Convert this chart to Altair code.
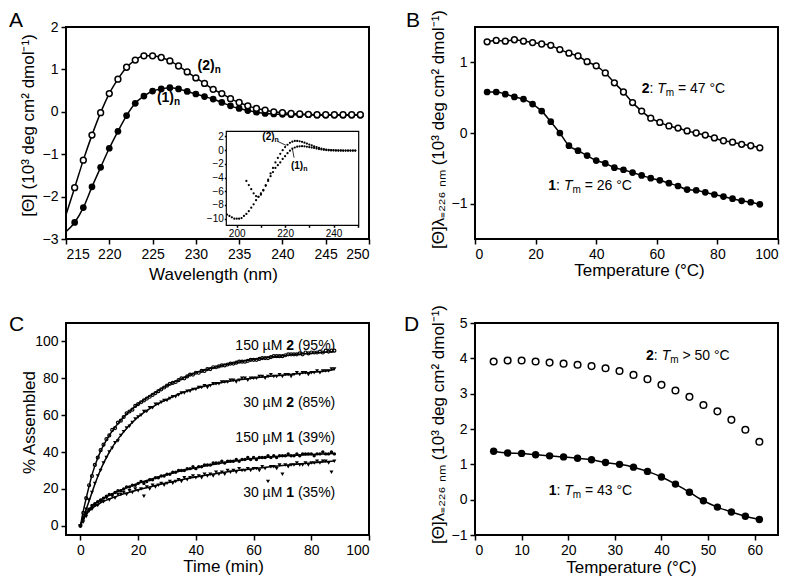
import altair as alt
import pandas as pd

FONT = "Liberation Sans"

# ---------------- Panel A : CD spectra ----------------
a_wl = list(range(216, 250))
a_open = [-1.79, -1.14, -0.55, -0.02, 0.43, 0.77, 1.05, 1.22, 1.32, 1.32,
          1.28, 1.20, 1.08, 0.94, 0.80, 0.67, 0.53, 0.43, 0.31, 0.22,
          0.14, 0.08, 0.04, 0.00, -0.02, -0.04, -0.05, -0.06, -0.07, -0.07,
          -0.07, -0.07, -0.07, -0.07]
a_filled = [-2.61, -2.26, -1.77, -1.31, -0.86, -0.46, -0.09, 0.20, 0.37, 0.49,
            0.54, 0.57, 0.54, 0.48, 0.42, 0.36, 0.30, 0.22, 0.14, 0.08,
            0.03, -0.01, -0.04, -0.05, -0.06, -0.07, -0.07, -0.07, -0.08, -0.08,
            -0.08, -0.08, -0.08, -0.08]
a_fit_wl = [215] + a_wl
a_fit_open = [-2.43] + a_open
a_fit_filled = [-2.83] + a_filled

# inset (full spectra)
in_wl1 = list(range(196, 250))
in_1 = [-9.4, -9.6, -9.8, -10.0, -10.0, -10.0, -9.9, -9.6, -9.3, -8.9,
        -8.4, -7.9, -7.3, -6.8, -6.3, -5.8, -5.2, -4.5, -3.8, -3.2,
        -2.6, -2.2, -1.8, -1.3, -0.9, -0.45, -0.1, 0.2, 0.37, 0.49,
        0.54, 0.57, 0.54, 0.48, 0.42, 0.36, 0.30, 0.22, 0.14, 0.08,
        0.03, -0.01, -0.04, -0.05, -0.06, -0.07, -0.07, -0.07, -0.08, -0.08,
        -0.08, -0.08, -0.08, -0.08]
in_wl2 = list(range(204, 250))
in_2 = [-4.5, -5.1, -5.7, -6.3, -6.7, -6.8, -6.5, -5.9, -5.1, -4.3,
        -3.4, -2.6, -1.8, -1.14, -0.55, -0.02, 0.43, 0.77, 1.05, 1.22,
        1.32, 1.32, 1.28, 1.20, 1.08, 0.94, 0.80, 0.67, 0.53, 0.43,
        0.31, 0.22, 0.14, 0.08, 0.04, 0.00, -0.02, -0.04, -0.05, -0.06,
        -0.07, -0.07, -0.07, -0.07, -0.07, -0.07]

# ---------------- Panel B : thermal melts ----------------
b_t = list(range(4, 95, 3))
b_open = [1.29, 1.31, 1.30, 1.32, 1.30, 1.28, 1.26, 1.24, 1.18, 1.13,
          1.09, 1.01, 0.95, 0.85, 0.71, 0.58, 0.43, 0.31, 0.21, 0.15,
          0.10, 0.07, 0.03, 0.00, -0.03, -0.07, -0.11, -0.13, -0.16, -0.18, -0.21]
b_filled = [0.58, 0.58, 0.55, 0.51, 0.48, 0.41, 0.31, 0.16, 0.00, -0.18,
            -0.25, -0.32, -0.39, -0.43, -0.49, -0.52, -0.56, -0.60, -0.64, -0.67,
            -0.71, -0.75, -0.80, -0.81, -0.84, -0.87, -0.90, -0.93, -0.96, -0.98, -1.01]

# ---------------- Panel C : assembly kinetics ----------------
c_t = list(range(0, 89))
c150_2 = [0, 7, 15, 22, 27, 33, 37, 41, 44, 47,
          49, 52, 53, 56, 57, 59, 61, 62, 63, 65,
          66, 67, 68, 69, 70, 71, 72, 73, 74, 75,
          76, 77, 77.5, 78, 79, 80, 80, 81, 82, 82,
          83, 83, 84, 84, 85, 85, 86, 86, 86.5, 87,
          87, 87.5, 88, 88, 88.5, 89, 89, 89, 89.5, 90,
          90, 90, 90.5, 91, 91, 91, 91.5, 92, 92, 92,
          92, 92.5, 93, 93, 93, 93, 93.5, 93, 94, 93.5,
          94, 94, 94, 94.5, 94, 95, 94.5, 95, 95]
c30_2 = [0, 4, 9, 14, 18, 23, 27, 30, 34, 37,
         40, 42, 45, 46, 49, 51, 53, 54, 56, 58,
         59, 60, 62, 62, 64, 64, 66, 66, 67, 68,
         68, 69, 70, 70, 71, 72, 72, 73, 73, 74,
         74, 75, 75, 76, 75, 76, 77, 77, 77, 78,
         78, 78, 79, 79, 78, 79, 80, 80, 79, 80,
         80, 80, 81, 81, 80, 81, 82, 81, 81, 82,
         81, 82, 82, 81, 82, 83, 82, 83, 83, 82,
         83, 83, 84, 83, 84, 84, 84, 85, 85]
c150_1 = [0, 4, 7, 9, 11, 12, 13, 14, 15, 16,
          17, 17, 18, 19, 19, 20, 21, 21, 22, 22,
          23, 24, 23, 24, 25, 25, 26, 26, 27, 27,
          28, 28, 29, 29, 30, 30, 30, 31, 31, 32,
          31, 32, 32, 33, 33, 33, 34, 34, 34, 35,
          34, 35, 35, 35, 36, 35, 36, 36, 37, 36,
          37, 36, 37, 37, 37, 38, 37, 38, 37, 38,
          38, 38, 39, 38, 38, 39, 38, 39, 39, 39,
          39, 38, 39, 39, 40, 39, 39, 40, 39]
c30_1 = [0, 2, 5, 8, 9, 11, 11, 13, 13, 15,
         14, 16, 15, 17, 17, 18, 17, 19, 18, 20,
         19, 20, 16, 21, 20, 22, 21, 22, 23, 22,
         23, 24, 23, 24, 25, 24, 26, 25, 26, 27,
         26, 27, 26, 28, 27, 28, 27, 29, 28, 29,
         28, 30, 29, 30, 29, 31, 30, 30, 31, 30,
         31, 31, 30, 32, 31, 24, 32, 32, 31, 33,
         28, 33, 32, 33, 33, 34, 33, 33, 34, 33,
         34, 34, 35, 34, 35, 35, 34, 29, 35]
c_fit_t = [0, 1, 2, 3, 4, 5, 7, 10, 15, 20, 25, 30, 35, 40, 45, 50, 55, 60, 65, 70, 75, 80, 85, 88]
fit150_2 = [0, 8, 15, 21.5, 27.5, 32.5, 40.5, 49, 59, 66, 71.3, 76, 79.7, 83, 85.3, 87.3, 88.9, 90.2, 91.3, 92.2, 93, 93.6, 94.2, 94.5]
fit30_2 = [0, 4.5, 9, 13.5, 18, 22.5, 30.5, 40, 51, 59, 64.5, 68.5, 72, 74.5, 76.5, 78, 79.2, 80.2, 81, 81.7, 82.5, 83.2, 84, 84.8]
fit150_1 = [0, 4, 7, 9, 10.5, 12, 14, 16.5, 20, 23, 25.5, 27.8, 29.8, 31.5, 33, 34.3, 35.4, 36.5, 37.2, 37.8, 38.3, 38.7, 39, 39.2]
fit30_1 = [0, 3.5, 6, 8, 9.5, 10.5, 12.5, 14.5, 17.3, 19.5, 21.5, 23.3, 25, 26.5, 27.8, 29, 30.1, 31, 31.9, 32.7, 33.4, 34.1, 34.8, 35.2]

# ---------------- Panel D : thermal melts (second condition) ----------------
d_t = list(range(4, 62, 3))
d_open = [3.91, 3.94, 3.94, 3.91, 3.88, 3.85, 3.82, 3.78, 3.72, 3.64,
          3.53, 3.41, 3.25, 3.09, 2.91, 2.68, 2.50, 2.26, 1.98, 1.64]
d_filled = [1.37, 1.32, 1.31, 1.27, 1.24, 1.21, 1.17, 1.13, 1.05, 1.00,
            0.92, 0.80, 0.64, 0.44, 0.21, -0.03, -0.21, -0.35, -0.47, -0.56]


def dxy(xs, ys):
    return pd.DataFrame({"x": xs, "y": ys})


AW = {" ": 278, "(": 333, ")": 333, ":": 278, "=": 584, ">": 584, "°": 400,
      "C": 722, "T": 611, "m": 833, "n": 556, "µ": 576, "M": 833, "%": 889}


def tw(s, size, bold=False):
    tot = 0
    for ch in s:
        if bold and ch == "n":
            tot += 611
        else:
            tot += AW.get(ch, 556)
    return tot * size / 1000.0


def rich(enc, x, y, pieces, right=False):
    total = sum(tw(p[0], p[1], p[2] == "bold") for p in pieces)
    cur = -total if right else 0.0
    out = []
    for text, size, weight, style, dy in pieces:
        stripped = text.lstrip(" ")
        cur += tw(" " * (len(text) - len(stripped)), size)
        d = pd.DataFrame({"x": [x], "y": [y], "t": [stripped]})
        out.append(alt.Chart(d).mark_text(
            align="left", baseline="alphabetic", dx=cur, dy=dy, font=FONT,
            fontSize=size, fontWeight=weight, fontStyle=style, color="black"
        ).encode(text="t:N", **enc))
        cur += tw(stripped, size, weight == "bold")
    return out


def letter(ch, x, y):
    return alt.Chart(pd.DataFrame({"t": [ch]})).mark_text(
        align="left", baseline="top", font=FONT, fontSize=21, color="black"
    ).encode(x=alt.value(x), y=alt.value(y), text="t:N")


def enc(xdom, xvals, xtitle, xtx, xty, ydom, yvals, ytitle, ytx, yty):
    return dict(
        x=alt.X("x:Q", scale=alt.Scale(domain=xdom, nice=False, zero=False),
                axis=alt.Axis(values=xvals, format="d", title=xtitle, titleX=xtx,
                              titleY=xty, titleBaseline="alphabetic")),
        y=alt.Y("y:Q", scale=alt.Scale(domain=ydom, nice=False, zero=False),
                axis=alt.Axis(values=yvals, format="d", title=ytitle, titleX=ytx,
                              titleY=yty, titleBaseline="alphabetic")),
    )


def line(df, e, interp="monotone"):
    return alt.Chart(df).mark_line(color="black", strokeWidth=1.5, interpolate=interp).encode(**e)


def filled(df, e, size):
    return alt.Chart(df).mark_circle(color="black", size=size, opacity=1).encode(**e)


def opened(df, e, size):
    return alt.Chart(df).mark_circle(fill="white", stroke="black", strokeWidth=1.5,
                                     size=size, opacity=1).encode(**e)


W1, W2, H = 303, 303, 212

# ---- Panel A ----
eA = enc([215, 250], list(range(215, 251, 5)), "Wavelength (nm)", 147, 40,
         [-3, 2], [-3, -2, -1, 0, 1, 2], "[Θ] (10³ deg cm² dmol⁻¹)", -33, 98)
mainA = alt.layer(
    line(dxy(a_fit_wl, a_fit_open), eA),
    line(dxy(a_fit_wl, a_fit_filled), eA),
    filled(dxy(a_wl, a_filled), eA, 45),
    opened(dxy(a_wl, a_open), eA, 34),
    *rich(eA, 230.2, 0.99, [("(2)", 14, "bold", "normal", 0), ("n", 10, "bold", "normal", 3)]),
    *rich(eA, 225.5, 0.23, [("(1)", 14, "bold", "normal", 0), ("n", 10, "bold", "normal", 3)]),
    letter("A", -57, -17),
)

eI = dict(
    x=alt.X("x:Q", scale=alt.Scale(domain=[195, 250], range=[158.6, 291.7], nice=False, zero=False),
            axis=alt.Axis(orient="bottom", offset=-13.7, values=list(range(200, 251, 10)),
                          format="d", title=None, labelFontSize=10, tickSize=2, labelPadding=1)),
    y=alt.Y("y:Q", scale=alt.Scale(domain=[-11, 2.7], range=[198.6, 104.5], nice=False, zero=False),
            axis=alt.Axis(orient="left", offset=-160.3, values=list(range(-10, 3, 2)),
                          format="d", title=None, labelFontSize=10, tickSize=2, labelPadding=1)),
)
inset_box = alt.Chart(pd.DataFrame({"k": [0]})).mark_rect(
    fill="white", stroke="black", strokeWidth=1.2
).encode(x=alt.value(160.3), x2=alt.value(292.7), y=alt.value(104.3), y2=alt.value(198.3))
leaders = alt.Chart(pd.DataFrame({"x": [216.9, 223.7], "y": [1.27, -1.1],
                                  "x2": [220.4, 223.0], "y2": [0.68, 0.2]})).mark_rule(
    color="black", strokeWidth=0.8).encode(x2="x2:Q", y2="y2:Q", **eI)
insetA = alt.layer(
    inset_box,
    alt.Chart(dxy(in_wl1, in_1)).mark_circle(color="black", size=5, opacity=1).encode(**eI),
    alt.Chart(dxy(in_wl2, in_2)).mark_circle(color="black", size=5, opacity=1).encode(**eI),
    leaders,
    *rich(eI, 217.4, 1.46, [("(2)", 10, "bold", "normal", 0), ("n", 7, "bold", "normal", 2)], right=True),
    *rich(eI, 222.4, -2.72, [("(1)", 10, "bold", "normal", 0), ("n", 7, "bold", "normal", 2)]),
)
A = alt.layer(mainA, insetA).resolve_scale(x="independent", y="independent").properties(width=W1, height=H)

# ---- Panel B ----
eB = enc([0, 100], list(range(0, 101, 20)), "Temperature (°C)", 164, 36,
         [-1.5, 1.5], [-1, 0, 1], "[Θ]λ₌₂₂₆ ₙₘ (10³ deg cm² dmol⁻¹)", -32, 102)


def tm_label(e, x, y, num, rest):
    return rich(e, x, y, [(num, 14, "bold", "normal", 0), (":", 14, "normal", "normal", 0),
                          (" T", 14, "normal", "italic", 0), ("m", 10, "normal", "normal", 3),
                          (rest, 14, "normal", "normal", 0)])


B = alt.layer(
    line(dxy(b_t, b_open), eB),
    line(dxy(b_t, b_filled), eB),
    filled(dxy(b_t, b_filled), eB, 45),
    opened(dxy(b_t, b_open), eB, 34),
    *tm_label(eB, 55, 0.56, "2", " = 47 °C"),
    *tm_label(eB, 24.2, -0.81, "1", " = 26 °C"),
    letter("B", -69, -17),
).properties(width=W2, height=H)

# ---- Panel C ----
eC = enc([-5, 100], list(range(0, 101, 20)), "Time (min)", 157, 36,
         [-5, 110], list(range(0, 101, 20)), "% Assembled", -32, 99)


def conc_label(e, y, conc, num, pct):
    return rich(e, 88.3, y, [(conc, 14, "normal", "normal", 0), (num, 14, "bold", "normal", 0),
                             (pct, 14, "normal", "normal", 0)], right=True)


C = alt.layer(
    alt.Chart(dxy(c_t, c150_2)).mark_point(shape="circle", size=9, strokeWidth=1.2, color="black", opacity=1).encode(**eC),
    alt.Chart(dxy(c_t, c30_2)).mark_point(shape="triangle-down", filled=True, size=16, color="black", opacity=1).encode(**eC),
    alt.Chart(dxy(c_t, c150_1)).mark_circle(size=12, color="black", opacity=1).encode(**eC),
    alt.Chart(dxy(c_t, c30_1)).mark_point(shape="triangle-down", filled=True, size=16, color="black", opacity=1).encode(**eC),
    line(dxy(c_fit_t, fit150_2), eC),
    line(dxy(c_fit_t, fit30_2), eC),
    line(dxy(c_fit_t, fit150_1), eC),
    line(dxy(c_fit_t, fit30_1), eC),
    *conc_label(eC, 95.3, "150 µM ", "2", " (95%)"),
    *conc_label(eC, 64.4, "30 µM ", "2", " (85%)"),
    *conc_label(eC, 45.4, "150 µM ", "1", " (39%)"),
    *conc_label(eC, 15.6, "30 µM ", "1", " (35%)"),
    letter("C", -57, -9),
).properties(width=W1, height=H)

# ---- Panel D ----
eD = enc([0, 65], list(range(0, 61, 10)), "Temperature (°C)", 156, 37,
         [-1, 5], list(range(-1, 6)), "[Θ]λ₌₂₂₆ ₙₘ (10³ deg cm² dmol⁻¹)", -32, 101)
D = alt.layer(
    line(dxy(d_t, d_filled), eD),
    filled(dxy(d_t, d_filled), eD, 55),
    opened(dxy(d_t, d_open), eD, 44),
    *tm_label(eD, 36.7, 3.95, "2", " > 50 °C"),
    *tm_label(eD, 15.8, 0.14, "1", " = 43 °C"),
    letter("D", -71, -9),
).properties(width=W2, height=H)

chart = alt.concat(A, B, C, D, columns=2, spacing={"row": 84, "column": 106}, bounds="flush").properties(
    padding=0, background="white"
).configure_view(stroke="black", strokeWidth=2).configure_axis(
    grid=False, domain=False, tickColor="black", tickSize=5, tickWidth=1.5,
    labelFont=FONT, labelFontSize=14, labelColor="black", labelPadding=3,
    titleFont=FONT, titleFontSize=17, titleFontWeight="normal", titleColor="black"
).configure_text(font=FONT)

chart.save("out.html", embed_options={"renderer": "svg", "actions": False})
